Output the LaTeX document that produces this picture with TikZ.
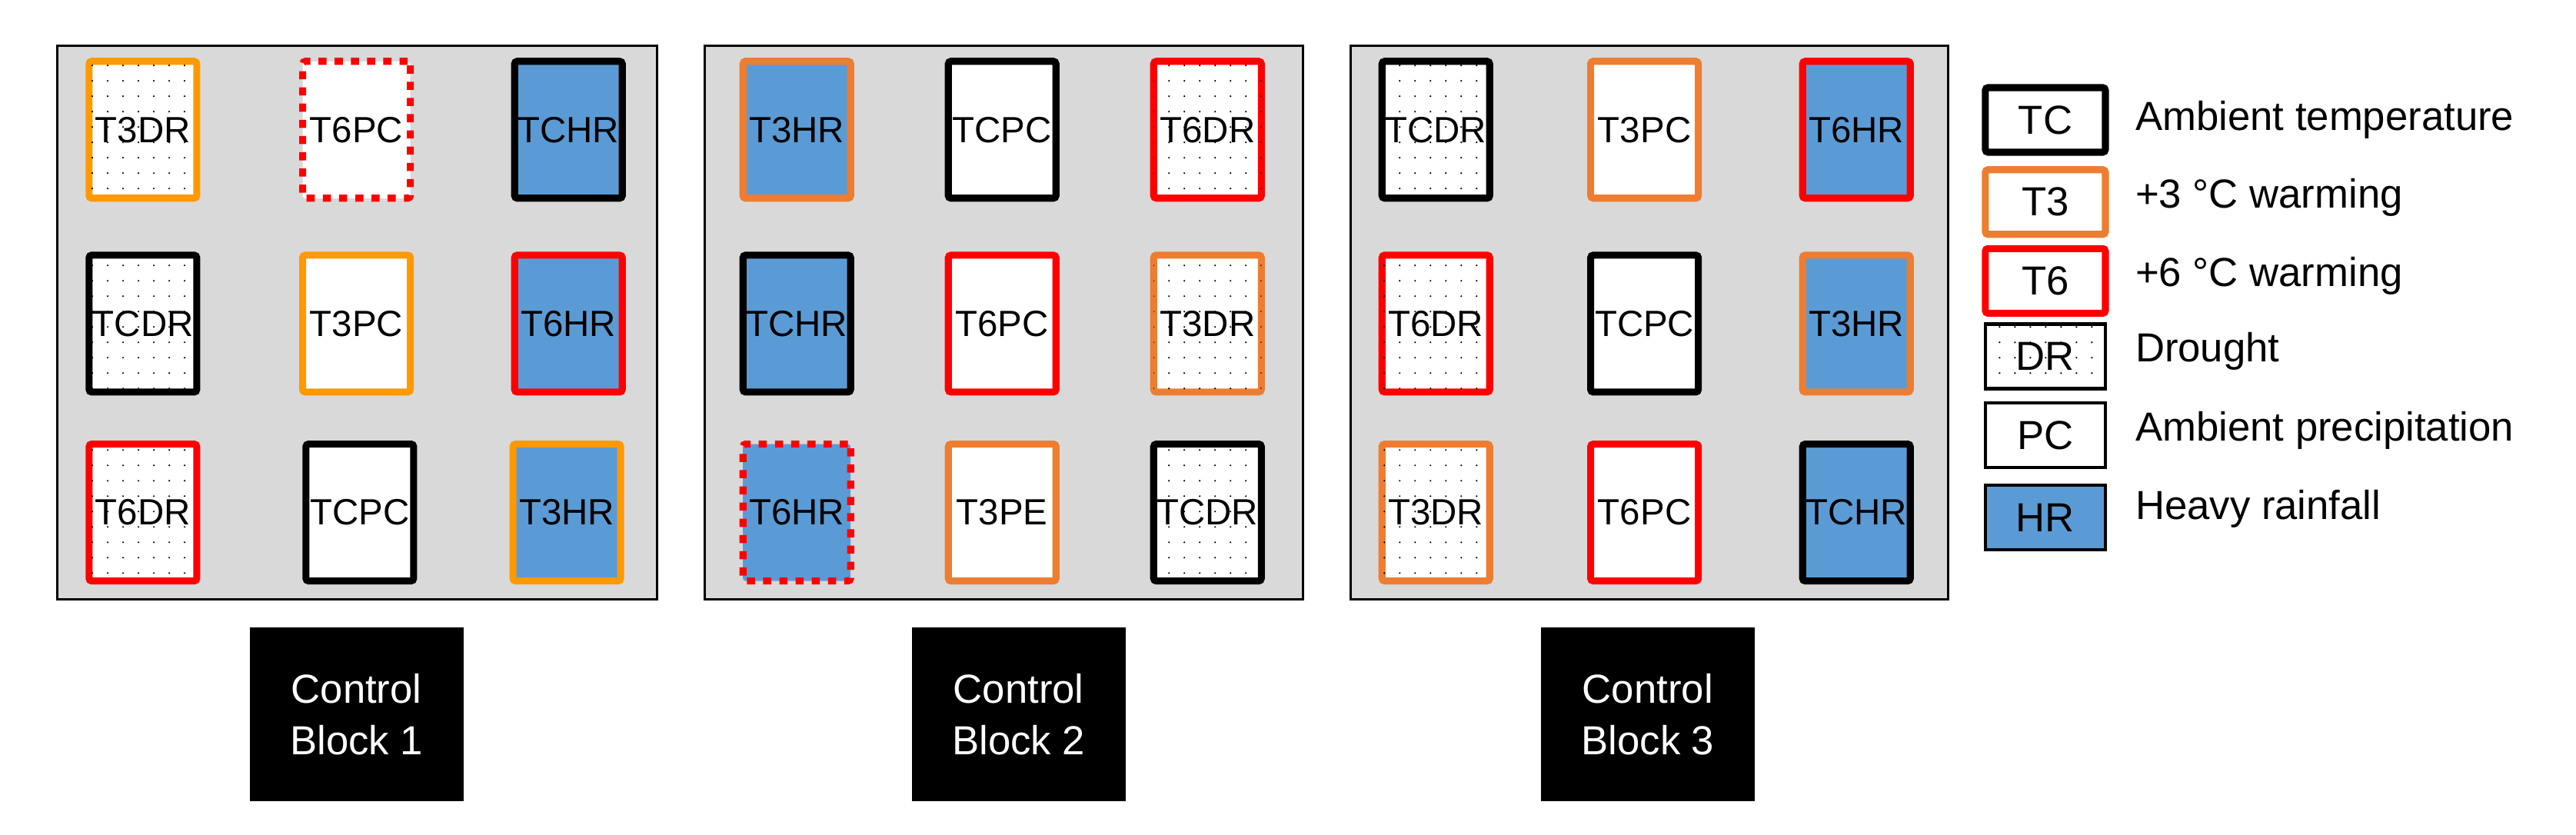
\documentclass[tikz,border=0pt]{standalone}
\usepackage{fontspec}
\setmainfont{Liberation Sans}
\usetikzlibrary{patterns.meta}
\definecolor{plotgray}{HTML}{D9D9D9}
\definecolor{rainblue}{HTML}{5B9BD5}
\definecolor{warmorange}{HTML}{ED7D31}
\definecolor{brightorange}{HTML}{FF9900}
\tikzset{
	plot/.style={draw, line width=2.6pt, rounded corners=1pt, minimum width=1.40cm, minimum height=1.78cm, inner sep=0pt, font=\fontsize{13.5}{15}\selectfont},
	tc/.style={plot, draw=black},
	tt/.style={plot, draw=warmorange},
	tto/.style={plot, draw=brightorange},
	ts/.style={plot, draw=red},
	dotline/.style={dash pattern=on 3pt off 3pt},
	dr/.style={fill=white, postaction={pattern={Dots[distance=2mm, radius=0.35pt]}}},
	pc/.style={fill=white},
	hr/.style={fill=rainblue},
	block/.style={draw, fill=plotgray, line width=0.9pt},
	ctrl/.style={fill=black, text=white, minimum width=2.78cm, minimum height=2.26cm, align=center, font=\fontsize{15}{19}\selectfont},
	leg/.style={draw, minimum width=1.56cm, minimum height=0.84cm, inner sep=0pt, font=\fontsize{15}{17}\selectfont},
	legtext/.style={anchor=west, font=\fontsize{15}{17}\selectfont}
}
\begin{document}
\begin{tikzpicture}[x=0.02136cm, y=-0.02136cm]

	\useasboundingbox (0,0) rectangle (1568,508);

	% blocks
	\draw[block] (35,28) rectangle (400,365);
	\draw[block] (429,28) rectangle (793,365);
	\draw[block] (822,28) rectangle (1186,365);

	% block 1
	\node[tto, dr] (b1a) at (87,79) {T3DR};
	\node[ts, pc, dotline] (b1b) at (217,79) {T6PC};
	\node[tc, hr] (b1c) at (346,79) {TCHR};
	\node[tc, dr] (b1d) at (87,197) {TCDR};
	\node[tto, pc] (b1e) at (217,197) {T3PC};
	\node[ts, hr] (b1f) at (346,197) {T6HR};
	\node[ts, dr] (b1g) at (87,312) {T6DR};
	\node[tc, pc] (b1h) at (219,312) {TCPC};
	\node[tto, hr] (b1i) at (345,312) {T3HR};

	% block 2
	\node[tt, hr] (b2a) at (485,79) {T3HR};
	\node[tc, pc] (b2b) at (610,79) {TCPC};
	\node[ts, dr] (b2c) at (735,79) {T6DR};
	\node[tc, hr] (b2d) at (485,197) {TCHR};
	\node[ts, pc] (b2e) at (610,197) {T6PC};
	\node[tt, dr] (b2f) at (735,197) {T3DR};
	\node[ts, hr, dotline] (b2g) at (485,312) {T6HR};
	\node[tt, pc] (b2h) at (610,312) {T3PE};
	\node[tc, dr] (b2i) at (735,312) {TCDR};

	% block 3
	\node[tc, dr] (b3a) at (874,79) {TCDR};
	\node[tt, pc] (b3b) at (1001,79) {T3PC};
	\node[ts, hr] (b3c) at (1130,79) {T6HR};
	\node[ts, dr] (b3d) at (874,197) {T6DR};
	\node[tc, pc] (b3e) at (1001,197) {TCPC};
	\node[tt, hr] (b3f) at (1130,197) {T3HR};
	\node[tt, dr] (b3g) at (874,312) {T3DR};
	\node[ts, pc] (b3h) at (1001,312) {T6PC};
	\node[tc, hr] (b3i) at (1130,312) {TCHR};

	% controls
	\node[ctrl] (c1) at (217,435) {Control\\Block 1};
	\node[ctrl] (c2) at (620,435) {Control\\Block 2};
	\node[ctrl] (c3) at (1003,435) {Control\\Block 3};

	% legend
	\node[leg, line width=2.6pt, rounded corners=1pt] (ltc) at (1245,73) {TC};
	\node[leg, line width=2.6pt, rounded corners=1pt, draw=warmorange] (ltt) at (1245,123) {T3};
	\node[leg, line width=2.6pt, rounded corners=1pt, draw=red] (lts) at (1245,171) {T6};
	\node[leg, line width=1.3pt, dr] (ldr) at (1245,217) {DR};
	\node[leg, line width=1.3pt, pc] (lpc) at (1245,265) {PC};
	\node[leg, line width=1.3pt, hr] (lhr) at (1245,315) {HR};
	\node[legtext] at (1294,73) {Ambient temperature};
	\node[legtext] at (1294,120) {+3 °C warming};
	\node[legtext] at (1294,168) {+6 °C warming};
	\node[legtext] at (1294,214) {Drought};
	\node[legtext] at (1294,262) {Ambient precipitation};
	\node[legtext] at (1294,310) {Heavy rainfall};

\end{tikzpicture}
\end{document}
